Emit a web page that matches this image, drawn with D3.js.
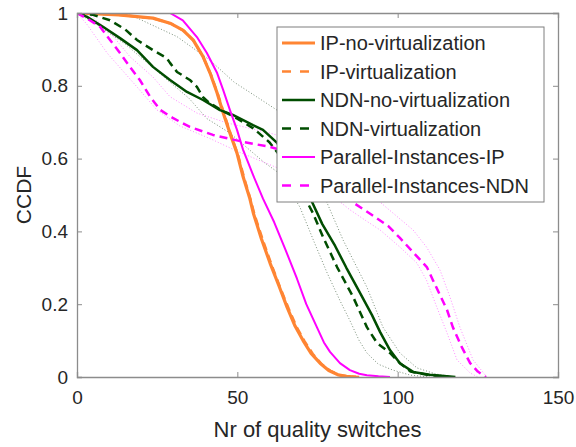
<!DOCTYPE html>
<html>
<head>
<meta charset="utf-8">
<script src="https://cdn.jsdelivr.net/npm/d3@7"></script>
<style>
  body { margin: 0; background: #fff; }
  text { font-family: "Liberation Sans", Arial, sans-serif; fill: #262626; }
</style>
</head>
<body>
<div id="chart"></div>
<script>
// Curves: [nr of switches, CCDF]
var ipNoVirt = [[0,1],[13,0.995],[23.7,0.986],[29,0.972],[33,0.953],[36.2,0.926],[39.3,0.88],[41.5,0.835],[43.7,0.78],[45.6,0.725],[47.7,0.67],[49.9,0.615],[51.8,0.55],[53.9,0.49],[55,0.45],[57.5,0.38],[60.2,0.313],[63,0.25],[65.5,0.192],[68,0.14],[70.5,0.10],[73,0.065],[75.8,0.038],[78.5,0.018],[81.4,0.006],[84,0.002],[87,0]];
var ipVirt = [[0,1],[12,0.996],[24,0.985],[29.5,0.97],[33.5,0.95],[36.5,0.922],[39.5,0.876],[41.8,0.83],[44,0.775],[46,0.72],[48,0.665],[50.2,0.61],[52.2,0.545],[54.2,0.485],[55.4,0.445],[58,0.375],[60.6,0.31],[63.4,0.245],[66,0.188],[68.5,0.137],[71,0.098],[73.5,0.064],[76.2,0.036],[79,0.017],[82,0.005],[85,0.001],[88,0]];
var ndnNoVirt = [[0,1],[3,0.99],[8.1,0.962],[13.4,0.931],[18.7,0.898],[23.7,0.852],[29,0.816],[34.3,0.783],[39.3,0.761],[44.6,0.733],[48.6,0.72],[54.9,0.692],[58,0.679],[62.4,0.643],[66,0.6],[70,0.54],[73.3,0.481],[76.5,0.42],[80.5,0.36],[84,0.3],[88,0.235],[92,0.17],[94.5,0.124],[97.6,0.074],[100.7,0.038],[104.8,0.014],[110,0.006],[118,0]];
var ndnVirt = [[0,1],[5,0.995],[10.3,0.98],[15,0.955],[18.7,0.926],[23.7,0.898],[28,0.876],[29,0.863],[31.2,0.838],[35.2,0.816],[37.4,0.797],[39.3,0.769],[41,0.755],[45,0.733],[50,0.71],[55,0.683],[60,0.645],[64,0.6],[67,0.555],[70,0.51],[73.6,0.45],[76.7,0.385],[81.1,0.302],[86.1,0.22],[90.4,0.137],[93.6,0.093],[97.6,0.066],[100.7,0.038],[104,0.015],[110,0.005],[116,0]];
var piIp = [[0,1],[29,1],[33,0.98],[37.4,0.934],[40.5,0.89],[43.7,0.835],[45.6,0.788],[47.7,0.733],[49.9,0.679],[51.8,0.624],[54.9,0.555],[58,0.49],[61.5,0.425],[65,0.35],[68.6,0.27],[71.5,0.2],[74.8,0.137],[77,0.095],[78.9,0.069],[82,0.038],[85.1,0.019],[88,0.009],[90.4,0.005],[94,0.002],[97.6,0]];
var piNdn = [[0,1],[4,0.98],[7.2,0.962],[10.3,0.926],[13.4,0.89],[16.5,0.852],[19.6,0.816],[22.8,0.77],[25.9,0.734],[30,0.711],[35.2,0.687],[42.4,0.665],[51.8,0.646],[60.2,0.632],[65,0.62],[70,0.6],[75,0.57],[80,0.53],[86,0.48],[92,0.445],[97,0.415],[100.7,0.382],[104.8,0.343],[109.1,0.302],[111,0.266],[113.2,0.225],[115.4,0.184],[117.2,0.137],[120,0.082],[122.6,0.038],[125,0.015],[127.5,0]];

// Dotted confidence bands
var ndnVirtUpper = [[0,1],[10,1],[17.8,0.99],[31.2,0.935],[41.5,0.87],[49,0.81],[56,0.77],[62.4,0.733],[70,0.62],[78,0.478],[83,0.376],[90.4,0.247],[95.4,0.137],[100.7,0.066],[106,0.025],[112,0.008],[118,0]];
var ndnVirtLower = [[0,1],[5,0.975],[15,0.915],[25,0.84],[35,0.765],[40.5,0.71],[47.7,0.67],[58.3,0.59],[63,0.56],[69.5,0.467],[74,0.37],[78,0.286],[82,0.21],[85,0.157],[88,0.1],[90.4,0.066],[94,0.035],[98.5,0.019],[104,0.005],[110,0]];
var piNdnUpper = [[0,1],[4,0.995],[10,0.95],[16.5,0.88],[23.7,0.824],[29,0.77],[37.4,0.725],[46.8,0.698],[60.2,0.67],[70,0.645],[80,0.6],[88,0.53],[96.7,0.464],[104.8,0.404],[109,0.357],[113.2,0.294],[116.3,0.22],[119.4,0.137],[123.5,0.047],[127.8,0]];
var piNdnLower = [[0,1],[3,0.97],[9.4,0.89],[18.7,0.797],[24.9,0.734],[32,0.69],[41.5,0.655],[50,0.62],[62.4,0.575],[70,0.55],[78,0.51],[85,0.46],[90,0.43],[94.5,0.404],[100.7,0.357],[106,0.313],[109,0.266],[112.2,0.192],[115.4,0.121],[118.5,0.047],[122.6,0.011],[125,0]];

var xTicks = [0, 50, 100, 150];
var yTicks = [0, 0.2, 0.4, 0.6, 0.8, 1];
var seriesNames = ["IP-no-virtualization", "IP-virtualization", "NDN-no-virtualization", "NDN-virtualization", "Parallel-Instances-IP", "Parallel-Instances-NDN"];

var orange = "#ff8533";
var green = "#004d00";
var magenta = "#ff00ff";

var series = [
  { name: seriesNames[0], data: ipNoVirt, color: orange, width: 3.2, dash: null },
  { name: seriesNames[1], data: ipVirt, color: orange, width: 2.5, dash: "8,5" },
  { name: seriesNames[2], data: ndnNoVirt, color: green, width: 2.5, dash: null },
  { name: seriesNames[3], data: ndnVirt, color: green, width: 2.5, dash: "8,5" },
  { name: seriesNames[4], data: piIp, color: magenta, width: 2, dash: null },
  { name: seriesNames[5], data: piNdn, color: magenta, width: 2.5, dash: "8,5" }
];

var bands = [
  { data: ndnVirtUpper, color: "#7a8f7a" },
  { data: ndnVirtLower, color: "#7a8f7a" },
  { data: piNdnUpper, color: "#ff8cff" },
  { data: piNdnLower, color: "#ff8cff" }
];

var svgWidth = 576;
var svgHeight = 447;
var margin = { top: 13, right: 18, bottom: 70, left: 77 };
var width = svgWidth - margin.left - margin.right;
var height = svgHeight - margin.top - margin.bottom;

var svg = d3.select("#chart")
  .append("svg")
  .attr("width", svgWidth)
  .attr("height", svgHeight);

var chartGroup = svg.append("g")
  .attr("transform", `translate(${margin.left}, ${margin.top})`);

var xScale = d3.scaleLinear().domain([0, 150]).range([0, width]);
var yScale = d3.scaleLinear().domain([0, 1]).range([height, 0]);

svg.append("defs").append("clipPath")
  .attr("id", "plotClip")
  .append("rect")
  .attr("width", width)
  .attr("height", height);

var line = d3.line()
  .x(d => xScale(d[0]))
  .y(d => yScale(d[1]));

var plot = chartGroup.append("g").attr("clip-path", "url(#plotClip)");

// Bands
plot.selectAll(".band")
  .data(bands)
  .enter()
  .append("path")
  .attr("class", "band")
  .attr("d", d => line(d.data))
  .attr("fill", "none")
  .attr("stroke", d => d.color)
  .attr("stroke-width", 1)
  .attr("stroke-dasharray", "1,2");

// Curves
plot.selectAll(".curve")
  .data(series)
  .enter()
  .append("path")
  .attr("class", "curve")
  .attr("d", d => line(d.data))
  .attr("fill", "none")
  .attr("stroke", d => d.color)
  .attr("stroke-width", d => d.width)
  .attr("stroke-dasharray", d => d.dash)
  .attr("stroke-linejoin", "round");

// Axes with inward ticks, box on all sides
var axisColor = "#8c8c8c";

var xAxis = d3.axisBottom(xScale).tickValues(xTicks).tickSize(-5).tickPadding(14).tickFormat(d3.format("d"));
var yAxis = d3.axisLeft(yScale).tickValues(yTicks).tickSize(-5).tickPadding(9).tickFormat(d => d === 0 || d === 1 ? d3.format("d")(d) : d3.format(".1f")(d));

chartGroup.append("g")
  .attr("transform", `translate(0, ${height})`)
  .call(xAxis);
chartGroup.append("g")
  .call(yAxis);

chartGroup.append("g")
  .call(d3.axisTop(xScale).tickValues(xTicks).tickSize(-5).tickFormat(""));
chartGroup.append("g")
  .attr("transform", `translate(${width}, 0)`)
  .call(d3.axisRight(yScale).tickValues(yTicks).tickSize(-5).tickFormat(""));

chartGroup.selectAll(".domain").attr("stroke", axisColor).attr("stroke-width", 1.3);
chartGroup.selectAll(".tick line").attr("stroke", axisColor);
chartGroup.selectAll(".tick text").style("font-size", "19px").attr("fill", "#262626");

// Axis labels
chartGroup.append("text")
  .attr("x", width / 2)
  .attr("y", height + 60)
  .attr("text-anchor", "middle")
  .style("font-size", "22px")
  .text("Nr of quality switches");

chartGroup.append("text")
  .attr("transform", "rotate(-90)")
  .attr("x", -height / 2)
  .attr("y", -46)
  .attr("text-anchor", "middle")
  .style("font-size", "21px")
  .text("CCDF");

// Legend
var legend = svg.append("g").attr("transform", "translate(277, 27)");

legend.append("rect")
  .attr("width", 267)
  .attr("height", 175)
  .attr("fill", "#fff")
  .attr("stroke", "#7f7f7f")
  .attr("stroke-width", 1);

var rows = legend.selectAll(".row")
  .data(series)
  .enter()
  .append("g")
  .attr("transform", (d, i) => `translate(0, ${16 + i * 28.5})`);

rows.append("line")
  .attr("x1", 5)
  .attr("x2", 38)
  .attr("stroke", d => d.color)
  .attr("stroke-width", d => d.width)
  .attr("stroke-dasharray", d => d.dash ? "9,9" : null);

rows.append("text")
  .attr("x", 43)
  .attr("dy", "0.35em")
  .style("font-size", "20px")
  .text(d => d.name);
</script>
</body>
</html>
